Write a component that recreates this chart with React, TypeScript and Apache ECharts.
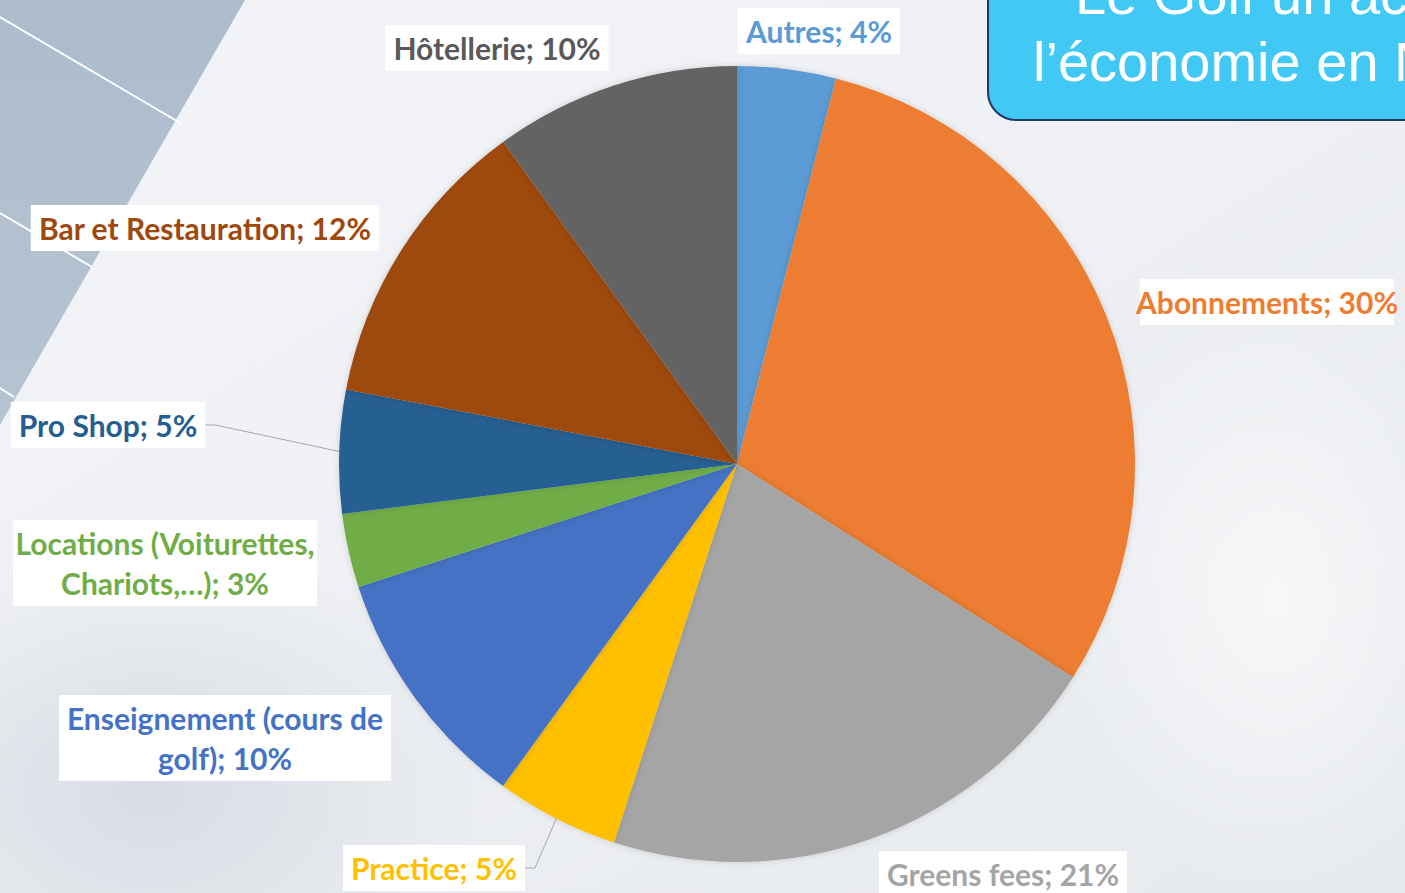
import React, { useEffect, useRef } from "react";
import * as echarts from "echarts";

const categories = [
  "Autres",
  "Abonnements",
  "Greens fees",
  "Practice",
  "Enseignement (cours de golf)",
  "Locations (Voiturettes, Chariots,…)",
  "Pro Shop",
  "Bar et Restauration",
  "Hôtellerie",
];
const labelTexts = [
  "Autres; 4%",
  "Abonnements; 30%",
  "Greens fees; 21%",
  "Practice; 5%",
  "Enseignement (cours de\ngolf); 10%",
  "Locations (Voiturettes,\nChariots,…); 3%",
  "Pro Shop; 5%",
  "Bar et Restauration; 12%",
  "Hôtellerie; 10%",
];
const values = [4, 30, 21, 5, 10, 3, 5, 12, 10];
const sliceColors = ["#5B9BD5", "#ED7D31", "#A5A5A5", "#FFC000", "#4472C4", "#70AD47", "#255E91", "#9E480E", "#636363"];
const labelColors = ["#5B9BD5", "#ED7D31", "#A5A5A5", "#FFC000", "#4472C4", "#70AD47", "#255E91", "#9E480E", "#595959"];
const showLeader = [false, false, false, true, false, false, true, false, false];
const labelCenters = [
  [819, 31],
  [1267, 302],
  [1003, 874],
  [434, 868],
  [225, 738],
  [165, 563],
  [108, 425],
  [205, 228],
  [497, 48],
];
const titleLines = ["Le Golf un acteur de", "l’économie en Normandie"];

export default function App() {
  const ref = useRef<HTMLDivElement>(null);
  useEffect(() => {
    document.body.style.margin = "0";
    const chart = echarts.init(ref.current!, null, { renderer: "svg" });
    const data = categories.map((name, i) => ({
      name,
      value: values[i],
      itemStyle: { color: sliceColors[i] },
      label: { color: labelColors[i] },
      labelLine: { show: showLeader[i] },
    }));
    const radial = (rgb: string, a: number) => ({
      type: "radial", x: 0.5, y: 0.5, r: 0.5,
      colorStops: [
        { offset: 0, color: `rgba(${rgb},${a})` },
        { offset: 1, color: `rgba(${rgb},0)` },
      ],
    });
    chart.setOption({
      animation: false,
      backgroundColor: "#eceef2",
      graphic: [
        {
          type: "rect",
          z: -10,
          shape: { x: 0, y: 0, width: 1405, height: 893 },
          style: {
            fill: {
              type: "linear", x: 0, y: 0, x2: 1, y2: 1,
              colorStops: [
                { offset: 0, color: "#f3f4f7" },
                { offset: 0.5, color: "#eef0f3" },
                { offset: 1, color: "#e6e9ed" },
              ],
            },
          },
          silent: true,
        },
        {
          type: "rect", z: -9, silent: true,
          shape: { x: -200, y: 540, width: 700, height: 500 },
          style: { fill: radial("200,207,218", 0.6) },
        },
        {
          type: "rect", z: -9, silent: true,
          shape: { x: 1050, y: 300, width: 450, height: 600 },
          style: { fill: radial("255,255,255", 0.6) },
        },
        {
          type: "polygon", z: -8, silent: true,
          shape: { points: [[0, 0], [245, 0], [0, 425]] },
          style: {
            fill: {
              type: "linear", x: 0, y: 0, x2: 0, y2: 1,
              colorStops: [
                { offset: 0, color: "#adbccd" },
                { offset: 1, color: "#b6c3d1" },
              ],
            },
          },
        },
        {
          type: "line", z: -7, silent: true,
          shape: { x1: 0, y1: 17, x2: 182, y2: 124 },
          style: { stroke: "#ffffff", lineWidth: 2 },
        },
        {
          type: "line", z: -7, silent: true,
          shape: { x1: 0, y1: 213, x2: 92, y2: 267 },
          style: { stroke: "#ffffff", lineWidth: 2 },
        },
        {
          type: "line", z: -7, silent: true,
          shape: { x1: 0, y1: 388, x2: 14, y2: 397 },
          style: { stroke: "#ffffff", lineWidth: 2 },
        },
        {
          type: "rect", z: 5, silent: true,
          shape: { x: 988, y: -60, width: 520, height: 180, r: 28 },
          style: { fill: "#42C8F4", stroke: "#1F3864", lineWidth: 2 },
        },
        {
          type: "text", z: 6, silent: true,
          x: 1075, y: -6,
          style: {
            text: titleLines[0],
            fill: "#ffffff",
            font: "56px 'Liberation Sans', Arial, sans-serif",
            verticalAlign: "middle",
          },
        },
        {
          type: "text", z: 6, silent: true,
          x: 1033, y: 61,
          style: {
            text: titleLines[1],
            fill: "#ffffff",
            font: "56px 'Liberation Sans', Arial, sans-serif",
            verticalAlign: "middle",
          },
        },
      ],
      series: [
        {
          type: "pie",
          center: [737, 464],
          radius: 398,
          startAngle: 90,
          clockwise: true,
          data,
          itemStyle: {
            shadowBlur: 6,
            shadowColor: "rgba(0,0,0,0.15)",
          },
          label: {
            show: true,
            position: "outside",
            formatter: (p: any) => labelTexts[p.dataIndex],
            fontFamily: "Lato, 'Noto Sans', sans-serif",
            fontWeight: "bold",
            fontSize: 30,
            lineHeight: 40,
            align: "center",
            overflow: "none",
            backgroundColor: "#ffffff",
            padding: [3, 8, 3, 8],
          },
          labelLine: {
            show: false,
            length: 20,
            length2: 10,
            lineStyle: { color: "#a6a6a6", width: 1 },
          },
          labelLayout: (p: any) => {
            const c = labelCenters[p.dataIndex];
            return { x: c[0], y: c[1], align: "center", verticalAlign: "middle" };
          },
          emphasis: { disabled: true },
        },
      ],
    });
    return () => chart.dispose();
  }, []);
  return <div ref={ref} style={{ width: 1405, height: 893 }} />;
}
